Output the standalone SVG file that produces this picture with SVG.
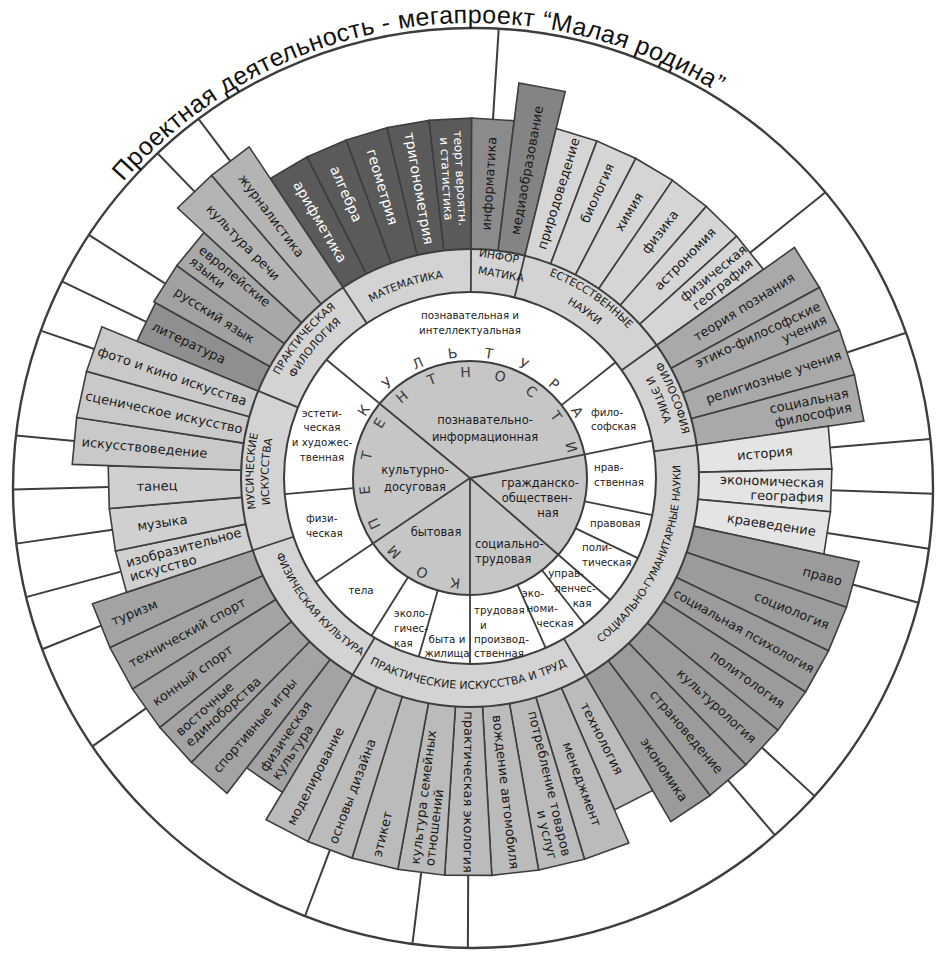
<svg xmlns="http://www.w3.org/2000/svg" width="936" height="953" viewBox="0 0 936 953">
<style>
.ln{stroke:#3d3d3d;stroke-width:2;fill:none}
.bar{stroke:#3d3d3d;stroke-width:1.6;stroke-linejoin:miter}
.m{fill:#5a5a5a}.inf{fill:#8b8b8b}.med{fill:#848484}.nat{fill:#d5d5d5}.phi{fill:#a9a9a9}.sl{fill:#e4e4e4}.sm{fill:#9b9b9b}.pr{fill:#bbbbbb}.ph{fill:#a3a3a3}.mu1{fill:#d0d0d0}.mu2{fill:#c9c9c9}.li{fill:#8f8f8f}.ru{fill:#a1a1a1}.eu{fill:#a8a8a8}.kr{fill:#b4b4b4}
.t{font-family:"DejaVu Sans",Verdana,sans-serif;font-size:13px;fill:#1a1a1a}
.tw{font-family:"DejaVu Sans",Verdana,sans-serif;font-size:14px;fill:#ffffff}
.c{text-anchor:middle}.e{text-anchor:end}.s{text-anchor:start}
.cat{font-family:"DejaVu Sans",Verdana,sans-serif;font-size:10.8px;fill:#1a1a1a}
.rg{font-family:"DejaVu Sans",Verdana,sans-serif;font-size:10.3px;fill:#1a1a1a}
.dg{font-family:"DejaVu Sans",Verdana,sans-serif;font-size:11.5px;fill:#1a1a1a}
.lt{font-family:"DejaVu Sans",Verdana,sans-serif;font-size:14px;fill:#3a3a3a;text-anchor:middle}
.ttl{font-family:"Liberation Sans",Arial,sans-serif;font-size:25px;fill:#111;letter-spacing:0.4px}
</style>
<defs>
<path id="b360" d="M223.6,-13.27L359.37,-21.32L359.37,21.32L223.6,13.27Z"/>
<path id="b362" d="M223.6,-13.27L361.36,-21.44L361.36,21.44L223.6,13.27Z"/>
<path id="b366" d="M223.6,-13.27L365.36,-21.68L365.36,21.68L223.6,13.27Z"/>
<path id="b398" d="M223.6,-13.27L397.3,-23.58L397.3,23.58L223.6,13.27Z"/>
<path id="p-title" d="M123.1,181.7A465,465 0 0 1 716,91.5"/>
<path id="p-mat" d="M-125.43,-157.69A201.5,201.5 0 0 1 5.27,-201.43"/>
<path id="p-est1" d="M34.03,-214.84A217.5,217.5 0 0 1 186.44,-112.02"/>
<path id="p-est2" d="M32.93,-196.77A199.5,199.5 0 0 1 171.89,-101.26"/>
<path id="p-fil1" d="M149.03,-157.04A216.5,216.5 0 0 1 216.1,13.22"/>
<path id="p-fil2" d="M136.13,-148.56A201.5,201.5 0 0 1 201.31,8.79"/>
<path id="p-pf1" d="M-209.12,-56.03A216.5,216.5 0 0 1 -91.5,-196.22"/>
<path id="p-pf2" d="M-194.63,-52.15A201.5,201.5 0 0 1 -85.16,-182.62"/>
<path id="p-mu1" d="M-198.98,85.29A216.5,216.5 0 0 1 -193.25,-97.62"/>
<path id="p-mu2" d="M-185.19,79.38A201.5,201.5 0 0 1 -179.86,-90.85"/>
<path id="p-sg" d="M58.02,202.35A210.5,210.5 0 0 0 189.2,-92.28"/>
<path id="p-pit" d="M-162.81,134.21A211,211 0 0 0 160.45,137.03"/>
<path id="p-fk" d="M-205.33,-36.21A208.5,208.5 0 0 0 0,208.5"/>
</defs>
<rect width="936" height="953" fill="#ffffff"/>

<g id="connectors" class="ln" transform="translate(470,478)">
<line x1="359.4" x2="450.2" transform="rotate(273.66)"/>
<line x1="359.4" x2="456.1" transform="rotate(321.2)"/>
<line x1="397.3" x2="459.7" transform="rotate(341.58)"/>
<line x1="361.4" x2="462.1" transform="rotate(355.17)"/>
<line x1="361.4" x2="463.3" transform="rotate(1.96)"/>
<line x1="361.4" x2="464.5" transform="rotate(8.75)"/>
<line x1="397.3" x2="465.6" transform="rotate(15.54)"/>
<line x1="397.3" x2="469" transform="rotate(42.71)"/>
<line x1="397.3" x2="469.6" transform="rotate(49.51)"/>
<line x1="397.3" x2="470" transform="rotate(90.26)"/>
<line x1="397.3" x2="469.6" transform="rotate(97.05)"/>
<line x1="397.3" x2="468.3" transform="rotate(110.64)"/>
<line x1="397.3" x2="463.3" transform="rotate(144.6)"/>
<line x1="397.3" x2="460.9" transform="rotate(158.19)"/>
<line x1="361.4" x2="459.7" transform="rotate(164.98)"/>
<line x1="361.4" x2="458.5" transform="rotate(171.77)"/>
<line x1="361.4" x2="457.3" transform="rotate(178.56)"/>
<line x1="397.3" x2="456.1" transform="rotate(185.36)"/>
<line x1="397.3" x2="453.9" transform="rotate(198.94)"/>
<line x1="359.4" x2="453" transform="rotate(205.73)"/>
<line x1="361.4" x2="452.1" transform="rotate(212.53)"/>
<line x1="397.3" x2="450.7" transform="rotate(226.11)"/>
<line x1="397.3" x2="450.2" transform="rotate(232.9)"/>
</g>
<circle id="outer-circle" cx="473" cy="488" r="460" class="ln" style="stroke-width:2.4"/>
<g id="title"><text class="ttl"><textPath href="#p-title">Проектная деятельность - мегапроект “Малая родина”</textPath></text></g>

<g id="bars" transform="translate(470,478)">
<g id="n-arifmetika" transform="rotate(239.7)"><use href="#b360" class="bar m"/><text class="tw c" transform="rotate(180)" x="-297" y="5">арифметика</text></g>
<g id="n-algebra" transform="rotate(246.49)"><use href="#b360" class="bar m"/><text class="tw c" transform="rotate(180)" x="-310" y="5">алгебра</text></g>
<g id="n-geometria" transform="rotate(253.28)"><use href="#b360" class="bar m"/><text class="tw c" transform="rotate(180)" x="-304" y="5">геометрия</text></g>
<g id="n-trigonometria" transform="rotate(260.07)"><use href="#b360" class="bar m"/><text class="tw c" transform="rotate(180)" x="-294" y="5">тригонометрия</text></g>
<g id="n-teorver" transform="rotate(266.86)"><use href="#b360" class="bar m"/><text class="tw c" style="font-size:12px" transform="rotate(180)"><tspan x="-300" y="-2.7">теорт вероятн.</tspan><tspan x="-300" y="11.3">и статистика</tspan></text></g>
<g id="n-informatika" transform="rotate(273.66)"><use href="#b360" class="bar inf"/><text class="t c" x="295" y="4.7">информатика</text></g>
<g id="n-mediaobr" transform="rotate(280.45)"><use href="#b398" class="bar med"/><text class="t c" x="313" y="4.7">медиаобразование</text></g>
<g id="n-prirodoved" transform="rotate(287.24)"><use href="#b360" class="bar nat"/><text class="t c" x="298" y="4.7">природоведение</text></g>
<g id="n-biologia" transform="rotate(294.03)"><use href="#b360" class="bar nat"/><text class="t c" x="312" y="4.7">биология</text></g>
<g id="n-himia" transform="rotate(300.83)"><use href="#b360" class="bar nat"/><text class="t c" x="310" y="4.7">химия</text></g>
<g id="n-fizika" transform="rotate(307.62)"><use href="#b360" class="bar nat"/><text class="t c" x="311" y="4.7">физика</text></g>
<g id="n-astronomia" transform="rotate(314.41)"><use href="#b360" class="bar nat"/><text class="t c" x="307" y="4.7">астрономия</text></g>
<g id="n-fizgeo" transform="rotate(321.2)"><use href="#b360" class="bar nat"/><text class="t c"><tspan x="318" y="-2.6">физическая</tspan><tspan x="318" y="11.9">география</tspan></text></g>
<g id="n-teorpozn" transform="rotate(328)"><use href="#b398" class="bar phi"/><text class="t c" x="323" y="4.7">теория познания</text></g>
<g id="n-etiko" transform="rotate(334.79)"><use href="#b398" class="bar phi"/><text class="t e"><tspan x="390" y="-2.6">этико-философские</tspan><tspan x="390" y="11.9">учения</tspan></text></g>
<g id="n-relig" transform="rotate(341.58)"><use href="#b398" class="bar phi"/><text class="t c" x="320" y="4.7">религиозные учения</text></g>
<g id="n-socfil" transform="rotate(348.37)"><use href="#b398" class="bar phi"/><text class="t e"><tspan x="388" y="-2.6">социальная</tspan><tspan x="388" y="11.9">философия</tspan></text></g>
<g id="n-istoria" transform="rotate(355.17)"><use href="#b362" class="bar sl"/><text class="t c" x="296" y="4.7">история</text></g>
<g id="n-ekongeo" transform="rotate(1.96)"><use href="#b362" class="bar sl"/><text class="t e"><tspan x="354" y="-2.6">экономическая</tspan><tspan x="354" y="11.9">география</tspan></text></g>
<g id="n-kraeved" transform="rotate(8.75)"><use href="#b362" class="bar sl"/><text class="t c" x="305" y="4.7">краеведение</text></g>
<g id="n-pravo" transform="rotate(15.54)"><use href="#b398" class="bar sm"/><text class="t e" x="386" y="4.7">право</text></g>
<g id="n-sociologia" transform="rotate(22.34)"><use href="#b398" class="bar sm"/><text class="t e" x="388" y="4.7">социология</text></g>
<g id="n-socpsih" transform="rotate(29.13)"><use href="#b398" class="bar sm"/><text class="t e" style="font-size:12.6px" x="393" y="4.6">социальная психология</text></g>
<g id="n-politologia" transform="rotate(35.92)"><use href="#b398" class="bar sm"/><text class="t e" x="387" y="4.7">политология</text></g>
<g id="n-kulturologia" transform="rotate(42.71)"><use href="#b398" class="bar sm"/><text class="t e" x="387" y="4.7">культурология</text></g>
<g id="n-stranoved" transform="rotate(49.51)"><use href="#b398" class="bar sm"/><text class="t e" x="386" y="4.7">страноведение</text></g>
<g id="n-ekonomika" transform="rotate(56.3)"><use href="#b398" class="bar sm"/><text class="t e" x="387" y="4.7">экономика</text></g>
<g id="n-tehnologia" transform="rotate(63.09)"><use href="#b362" class="bar pr"/><text class="t c" x="292" y="4.7">технология</text></g>
<g id="n-menedzhment" transform="rotate(69.88)"><use href="#b398" class="bar pr"/><text class="t c" x="326" y="4.7">менеджмент</text></g>
<g id="n-potreblenie" transform="rotate(76.68)"><use href="#b398" class="bar pr"/><text class="t e"><tspan x="390" y="-2.6">потребление товаров</tspan><tspan x="390" y="11.9">и услуг</tspan></text></g>
<g id="n-vozhdenie" transform="rotate(83.47)"><use href="#b398" class="bar pr"/><text class="t c" x="316" y="4.7">вождение автомобиля</text></g>
<g id="n-praktekol" transform="rotate(90.26)"><use href="#b398" class="bar pr"/><text class="t c" x="314" y="4.7">практическая экология</text></g>
<g id="n-kultsem" transform="rotate(97.05)"><use href="#b398" class="bar pr"/><text class="t s" transform="rotate(180)"><tspan x="-390" y="-2.6">культура семейных</tspan><tspan x="-390" y="11.9">отношений</tspan></text></g>
<g id="n-etiket" transform="rotate(103.85)"><use href="#b398" class="bar pr"/><text class="t s" transform="rotate(180)" x="-390" y="4.7">этикет</text></g>
<g id="n-osnovydiz" transform="rotate(110.64)"><use href="#b398" class="bar pr"/><text class="t s" transform="rotate(180)" x="-390" y="4.7">основы дизайна</text></g>
<g id="n-modelir" transform="rotate(117.43)"><use href="#b398" class="bar pr"/><text class="t s" transform="rotate(180)" x="-390" y="4.7">моделирование</text></g>
<g id="n-fizkult" transform="rotate(124.22)"><use href="#b366" class="bar ph"/><text class="t s" transform="rotate(180)"><tspan x="-358" y="-2.6">физическая</tspan><tspan x="-358" y="11.9">культура</tspan></text></g>
<g id="n-sportigry" transform="rotate(131.02)"><use href="#b398" class="bar ph"/><text class="t s" transform="rotate(180)" x="-388" y="4.7">спортивные игры</text></g>
<g id="n-vostochnye" transform="rotate(137.81)"><use href="#b398" class="bar ph"/><text class="t s" transform="rotate(180)"><tspan x="-388" y="-2.6">восточные</tspan><tspan x="-388" y="11.9">единоборства</tspan></text></g>
<g id="n-konny" transform="rotate(144.6)"><use href="#b398" class="bar ph"/><text class="t s" transform="rotate(180)" x="-388" y="4.7">конный спорт</text></g>
<g id="n-tehsport" transform="rotate(151.39)"><use href="#b398" class="bar ph"/><text class="t s" transform="rotate(180)" x="-388" y="4.7">технический спорт</text></g>
<g id="n-turizm" transform="rotate(158.19)"><use href="#b398" class="bar ph"/><text class="t s" transform="rotate(180)" x="-386" y="4.7">туризм</text></g>
<g id="n-izo" transform="rotate(164.98)"><use href="#b362" class="bar mu1"/><text class="t s" transform="rotate(180)"><tspan x="-354" y="-2.6">изобразительное</tspan><tspan x="-354" y="11.9">искусство</tspan></text></g>
<g id="n-muzyka" transform="rotate(171.77)"><use href="#b362" class="bar mu1"/><text class="t c" transform="rotate(180)" x="-311" y="4.7">музыка</text></g>
<g id="n-tanec" transform="rotate(178.56)"><use href="#b362" class="bar mu1"/><text class="t c" transform="rotate(180)" x="-313" y="4.7">танец</text></g>
<g id="n-iskusstvoved" transform="rotate(185.36)"><use href="#b398" class="bar mu2"/><text class="t s" transform="rotate(180)" x="-390" y="4.7">искусствоведение</text></g>
<g id="n-scenich" transform="rotate(192.15)"><use href="#b398" class="bar mu2"/><text class="t s" transform="rotate(180)" x="-393" y="4.7">сценическое искусство</text></g>
<g id="n-foto" transform="rotate(198.94)"><use href="#b398" class="bar mu2"/><text class="t s" transform="rotate(180)" x="-393" y="4.7">фото и кино искусства</text></g>
<g id="n-literatura" transform="rotate(205.73)"><use href="#b360" class="bar li"/><text class="t c" transform="rotate(180)" x="-312" y="4.7">литература</text></g>
<g id="n-russkiy" transform="rotate(212.53)"><use href="#b362" class="bar ru"/><text class="t c" transform="rotate(180)" x="-303" y="4.7">русский язык</text></g>
<g id="n-evrop" transform="rotate(219.32)"><use href="#b362" class="bar eu"/><text class="t s" transform="rotate(180)"><tspan x="-354" y="-2.6">европейские</tspan><tspan x="-354" y="11.9">языки</tspan></text></g>
<g id="n-kultrechi" transform="rotate(226.11)"><use href="#b398" class="bar kr"/><text class="t c" transform="rotate(180)" x="-327" y="4.7">культура речи</text></g>
<g id="n-zhurnal" transform="rotate(232.9)"><use href="#b398" class="bar kr"/><text class="t c" transform="rotate(180)" x="-329" y="4.7">журналистика</text></g>
</g>

<g id="rings" transform="translate(470,478)">
<circle r="229" style="fill:#d3d3d3;stroke:#3d3d3d;stroke-width:2"/>
<circle r="186" style="fill:#ffffff;stroke:#3d3d3d;stroke-width:2"/>
<circle r="117" style="fill:#c6c6c6;stroke:#3d3d3d;stroke-width:2"/>
<g id="dividers" class="ln" style="stroke-width:1.8">
<line x1="186" x2="229" transform="rotate(236.3)"/>
<line x1="186" x2="229" transform="rotate(270.26)"/>
<line x1="186" x2="229" transform="rotate(283.85)"/>
<line x1="186" x2="229" transform="rotate(324.6)"/>
<line x1="186" x2="229" transform="rotate(351.77)"/>
<line x1="186" x2="229" transform="rotate(59.7)"/>
<line x1="186" x2="229" transform="rotate(120.83)"/>
<line x1="186" x2="229" transform="rotate(161.59)"/>
<line x1="186" x2="229" transform="rotate(202.34)"/>
<line x1="117" x2="186" transform="rotate(321.5)"/>
<line x1="117" x2="186" transform="rotate(11.5)"/>
<line x1="117" x2="186" transform="rotate(25.5)"/>
<line x1="117" x2="186" transform="rotate(52)"/>
<line x1="117" x2="186" transform="rotate(66)"/>
<line x1="117" x2="186" transform="rotate(106)"/>
<line x1="117" x2="186" transform="rotate(122)"/>
<line x1="117" x2="186" transform="rotate(175)"/>
<line x1="0" x2="186" transform="rotate(219.5)"/>
<line x1="0" x2="186" transform="rotate(348.4)"/>
<line x1="0" x2="186" transform="rotate(41)"/>
<line x1="0" x2="186" transform="rotate(90)"/>
<line x1="0" x2="186" transform="rotate(146)"/>
</g>
<g id="cat-matematika"><text class="cat c"><textPath href="#p-mat" startOffset="50%">МАТЕМАТИКА</textPath></text></g>
<g id="cat-estestv"><text class="cat c"><textPath href="#p-est1" startOffset="50%">ЕСТЕССТВЕННЫЕ</textPath></text><text class="cat c"><textPath href="#p-est2" startOffset="50%">НАУКИ</textPath></text></g>
<g id="cat-filosofia"><text class="cat c"><textPath href="#p-fil1" startOffset="50%">ФИЛОСОФИЯ</textPath></text><text class="cat c"><textPath href="#p-fil2" startOffset="50%">И ЭТИКА</textPath></text></g>
<g id="cat-socgum"><text class="cat c" style="font-size:10.5px"><textPath href="#p-sg" startOffset="50%">СОЦИАЛЬНО-ГУМАНИТАРНЫЕ НАУКИ</textPath></text></g>
<g id="cat-praktisk"><text class="cat c" style="font-size:11px"><textPath href="#p-pit" startOffset="50%">ПРАКТИЧЕСКИЕ ИСКУССТВА И ТРУД</textPath></text></g>
<g id="cat-fizkult"><text class="cat c" style="font-size:10.6px"><textPath href="#p-fk" startOffset="50%">ФИЗИЧЕСКАЯ КУЛЬТУРА</textPath></text></g>
<g id="cat-muzisk"><text class="cat c"><textPath href="#p-mu1" startOffset="50%">МУСИЧЕСКИЕ</textPath></text><text class="cat c"><textPath href="#p-mu2" startOffset="50%">ИСКУССТВА</textPath></text></g>
<g id="cat-praktfil"><text class="cat c"><textPath href="#p-pf1" startOffset="50%">ПРАКТИЧЕСКАЯ</textPath></text><text class="cat c"><textPath href="#p-pf2" startOffset="50%">ФИЛОЛОГИЯ</textPath></text></g>
<g id="ring-kultura">
<text class="lt" transform="rotate(302.4)" y="-121">К</text>
<text class="lt" transform="rotate(318.96)" y="-121">У</text>
<text class="lt" transform="rotate(335.52)" y="-121">Л</text>
<text class="lt" transform="rotate(352.08)" y="-121">Ь</text>
<text class="lt" transform="rotate(8.64)" y="-121">Т</text>
<text class="lt" transform="rotate(25.2)" y="-121">У</text>
<text class="lt" transform="rotate(41.76)" y="-121">Р</text>
<text class="lt" transform="rotate(58.3)" y="-121">А</text>
</g>
<g id="ring-kompetentnosti">
<text class="lt" transform="rotate(188)" y="-101">К</text>
<text class="lt" transform="rotate(206.85)" y="-101">О</text>
<text class="lt" transform="rotate(225.7)" y="-101">М</text>
<text class="lt" transform="rotate(244.55)" y="-101">П</text>
<text class="lt" transform="rotate(263.4)" y="-101">Е</text>
<text class="lt" transform="rotate(282.25)" y="-101">Т</text>
<text class="lt" transform="rotate(301.1)" y="-101">Е</text>
<text class="lt" transform="rotate(319.95)" y="-101">Н</text>
<text class="lt" transform="rotate(338.8)" y="-101">Т</text>
<text class="lt" transform="rotate(357.65)" y="-101">Н</text>
<text class="lt" transform="rotate(16.5)" y="-101">О</text>
<text class="lt" transform="rotate(35.35)" y="-101">С</text>
<text class="lt" transform="rotate(54.2)" y="-101">Т</text>
<text class="lt" transform="rotate(73.05)" y="-101">И</text>
</g>
</g>

<g id="cat-informatika"><text class="cat c" transform="translate(499,256) rotate(10)" y="3.9">ИНФОР</text><text class="cat c" transform="translate(501,274) rotate(10)" y="3.9">МАТИКА</text></g>

<g id="r-poznav"><text class="rg c"><tspan x="470" y="319">познавательная и</tspan><tspan x="470" y="334">интеллектуальная</tspan></text></g>
<g id="r-filosof"><text class="rg s"><tspan x="591" y="416">фило-</tspan><tspan x="591" y="430">софская</tspan></text></g>
<g id="r-nravstv"><text class="rg s"><tspan x="594" y="471">нрав-</tspan><tspan x="594" y="486">ственная</tspan></text></g>
<g id="r-pravovaya"><text class="rg s" x="590" y="527">правовая</text></g>
<g id="r-polit"><text class="rg s"><tspan x="582" y="551">поли-</tspan><tspan x="582" y="566">тическая</tspan></text></g>
<g id="r-upravl"><text class="rg c"><tspan x="566" y="577">управ-</tspan><tspan x="575" y="592">ленчес-</tspan><tspan x="582" y="607">кая</tspan></text></g>
<g id="r-ekonom"><text class="rg c"><tspan x="533" y="597">эко-</tspan><tspan x="542" y="612">номи-</tspan><tspan x="555" y="627">ческая</tspan></text></g>
<g id="r-trud"><text class="rg s"><tspan x="474" y="614">трудовая</tspan><tspan x="480" y="629">и</tspan><tspan x="474" y="643">производ-</tspan><tspan x="474" y="657">ственная</tspan></text></g>
<g id="r-byta"><text class="rg c"><tspan x="447" y="643">быта и</tspan><tspan x="447" y="657">жилища</tspan></text></g>
<g id="r-ekolog"><text class="rg s"><tspan x="394" y="617">эколо-</tspan><tspan x="394" y="632">гичес-</tspan><tspan x="394" y="647">кая</tspan></text></g>
<g id="r-tela"><text class="rg c" x="361" y="594">тела</text></g>
<g id="r-fizich"><text class="rg s"><tspan x="306" y="522">физи-</tspan><tspan x="306" y="537">ческая</tspan></text></g>
<g id="r-estet"><text class="rg c"><tspan x="322" y="417">эстети-</tspan><tspan x="322" y="431">ческая</tspan><tspan x="322" y="446">и художес-</tspan><tspan x="322" y="461">твенная</tspan></text></g>

<g id="d-poznav-inf"><text class="dg c"><tspan x="485" y="424">познавательно-</tspan><tspan x="485" y="441">информационная</tspan></text></g>
<g id="d-kultdos"><text class="dg c"><tspan x="415" y="474">культурно-</tspan><tspan x="415" y="491">досуговая</tspan></text></g>
<g id="d-grazhd"><text class="dg c"><tspan x="540" y="487">гражданско-</tspan><tspan x="537" y="502">обществен-</tspan><tspan x="548" y="517">ная</tspan></text></g>
<g id="d-bytovaya"><text class="dg c" x="436" y="536">бытовая</text></g>
<g id="d-soctrud"><text class="dg s"><tspan x="475" y="548">социально-</tspan><tspan x="475" y="563">трудовая</tspan></text></g>
</svg>
